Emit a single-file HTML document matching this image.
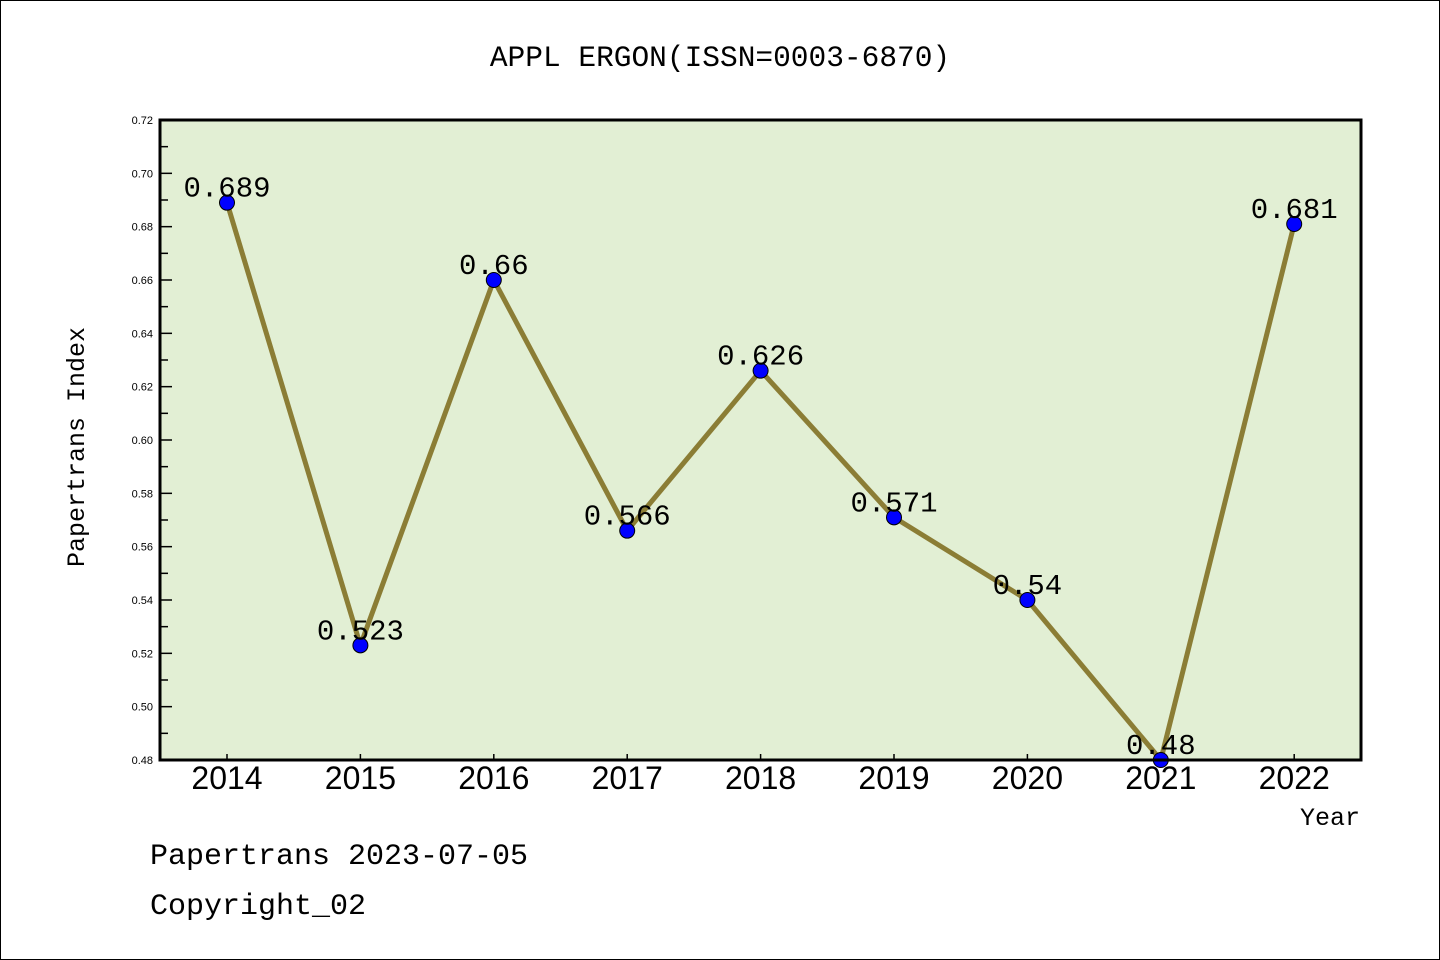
<!DOCTYPE html>
<html><head><meta charset="utf-8"><style>
body{margin:0;background:#fff}
svg{display:block;font-family:"Liberation Sans","WenQuanYi Zen Hei",sans-serif}
.m{font-family:"Liberation Mono","WenQuanYi Zen Hei",monospace}
</style></head><body>
<svg id="c" width="1440" height="960">
<rect x="0.5" y="0.5" width="1439" height="959" fill="#fff" stroke="#000"/>
<text class="m" x="720" y="66" font-size="29.5" text-anchor="middle">APPL ERGON(ISSN=0003-6870)</text>
<rect x="160" y="120" width="1201" height="640" fill="#e2efd4"/>
<g id="ticks"></g>
<g id="series"></g>
<rect x="160" y="120" width="1201" height="640" fill="none" stroke="#000" stroke-width="3"/>
<text class="m" x="84" y="447" font-size="25" text-anchor="middle" transform="rotate(-90 84 447)">Papertrans Index</text>
<text class="m" x="1360" y="825" font-size="25" text-anchor="end">Year</text>
<text class="m" x="150" y="864" font-size="30">Papertrans 2023-07-05</text>
<text class="m" x="150" y="914" font-size="30">Copyright_02</text>
</svg>
<script>
const years=["2014","2015","2016","2017","2018","2019","2020","2021","2022"];
const values=[0.689,0.523,0.66,0.566,0.626,0.571,0.54,0.48,0.681];
const labels=["0.689","0.523","0.66","0.566","0.626","0.571","0.54","0.48","0.681"];
const yTicks=["0.48","0.50","0.52","0.54","0.56","0.58","0.60","0.62","0.64","0.66","0.68","0.70","0.72"];
const NS="http://www.w3.org/2000/svg";
const x=i=>227+i*133.4;
const y=v=>760-(v-0.48)/0.24*640;
function mk(t,a,p){const e=document.createElementNS(NS,t);for(const k in a)e.setAttribute(k,a[k]);p.appendChild(e);return e;}
const tg=document.getElementById('ticks'),sg=document.getElementById('series');
yTicks.forEach((t,i)=>{const v=parseFloat(t),yy=y(v);
 const l=mk('line',{x1:160,x2:172,y1:yy,y2:yy,stroke:'#000','stroke-width':1.5},tg);
 
 
 const tx=mk('text',{x:153,y:yy+4,'font-size':11,'text-anchor':'end'},tg);tx.textContent=t;
 
 
 if(i<yTicks.length-1){const ym=y(v+0.01);const m=mk('line',{x1:160,x2:168,y1:ym,y2:ym,stroke:'#000','stroke-width':1.5},tg);
 
 }
});
years.forEach((yr,i)=>{const l=mk('line',{x1:x(i),x2:x(i),y1:760,y2:754,stroke:'#000','stroke-width':1.5},tg);
 
 
 const t=mk('text',{x:x(i),y:789,'font-size':32,'text-anchor':'middle'},tg);t.textContent=yr;
 
 });
const pl=mk('polyline',{points:values.map((v,i)=>x(i)+','+y(v)).join(' '),fill:'none',stroke:'#8b7d35','stroke-width':5},sg);


values.forEach((v,i)=>{const c=mk('circle',{cx:x(i),cy:y(v),r:7.5,fill:'#0000ff',stroke:'#000','stroke-width':1},sg);
 
 
 const t=mk('text',{x:x(i),y:y(v)-6,'font-size':29,'text-anchor':'middle','class':'m'},sg);t.textContent=labels[i];
 
 });
</script>
</body></html>
